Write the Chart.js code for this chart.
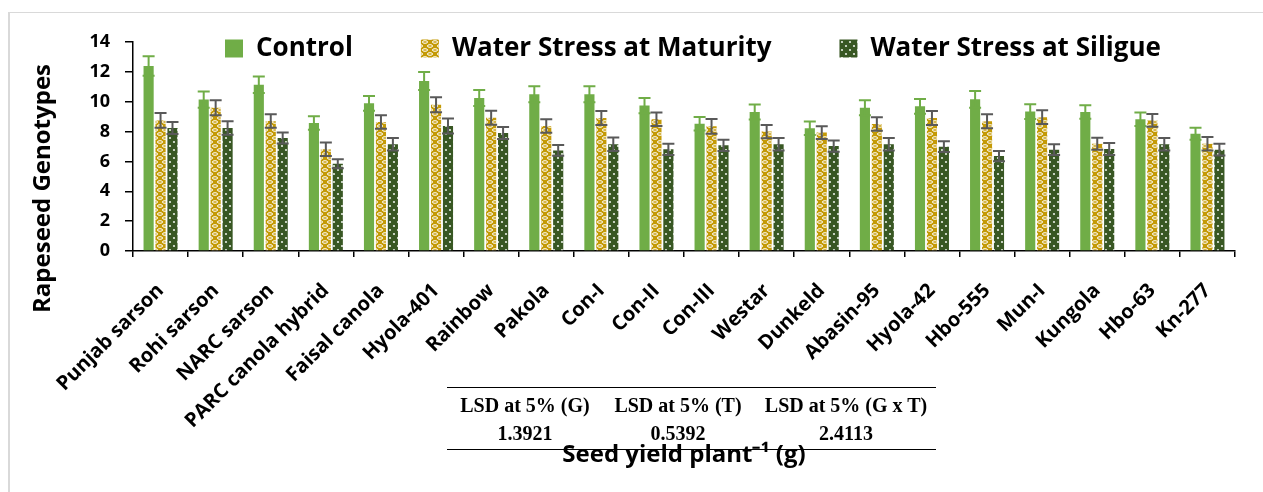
<!DOCTYPE html>
<html>
<head>
<meta charset="utf-8">
<script src="https://cdn.jsdelivr.net/npm/chart.js@4.4.1/dist/chart.umd.min.js"></script>
<style>
  html, body { margin: 0; padding: 0; background: #fff; }
  #wrap { position: relative; width: 1263px; height: 492px; overflow: hidden; }
  #frame { position: absolute; left: 8px; top: 12px; right: -10px; bottom: -10px;
           border-left: 2px solid #d9d9d9; border-top: 1px solid #d9d9d9; }
  #c { position: absolute; left: 0; top: 0; }
  .tline { position: absolute; height: 0; border-top: 1.3px solid #000; }
  .tcell { position: absolute; transform: translate(-50%, -50%); white-space: nowrap;
           font-family: "Liberation Serif", "Times New Roman", serif; font-weight: bold;
           font-size: 20px; color: #000; }
</style>
</head>
<body>
<div id="wrap">
  <div id="frame"></div>
  <canvas id="c" width="1263" height="492"></canvas>
  <div id="table"></div>
</div>
<script>
// ---------- data ----------
const categories = ["Punjab sarson","Rohi sarson","NARC sarson","PARC canola hybrid","Faisal canola",
  "Hyola-401","Rainbow","Pakola","Con-I","Con-II","Con-III","Westar","Dunkeld","Abasin-95",
  "Hyola-42","Hbo-555","Mun-I","Kungola","Hbo-63","Kn-277"];
const seriesNames = ["Control", "Water Stress at Maturity", "Water Stress at Siligue"];
const control     = [12.39,10.14,11.14,8.57,9.89,11.39,10.25,10.50,10.50,9.74,8.53,9.31,8.22,9.60,9.69,10.16,9.34,9.31,8.82,7.86];
const controlErr  = [0.65,0.55,0.55,0.45,0.50,0.60,0.53,0.53,0.53,0.51,0.45,0.50,0.45,0.50,0.50,0.56,0.49,0.45,0.45,0.40];
const maturity    = [8.75,9.60,8.71,6.81,8.64,9.80,8.93,8.37,8.91,8.82,8.35,8.00,7.93,8.51,8.91,8.69,8.96,7.19,8.75,7.19];
const maturityErr = [0.50,0.50,0.45,0.45,0.45,0.50,0.47,0.45,0.47,0.45,0.50,0.44,0.42,0.45,0.47,0.47,0.46,0.40,0.43,0.45];
const silique     = [8.24,8.24,7.57,5.85,7.15,8.37,7.90,6.74,7.15,6.81,7.08,7.15,7.03,7.15,6.99,6.36,6.79,6.83,7.15,6.79];
const siliqueErr  = [0.40,0.45,0.37,0.30,0.42,0.50,0.40,0.36,0.45,0.38,0.38,0.42,0.38,0.42,0.36,0.34,0.36,0.40,0.42,0.40];
const yMin = 0, yMax = 14, yStep = 2;
const yTitle = "Rapeseed Genotypes" + "\u2002".repeat(7);
const xTitle = "Seed yield plant\u207B\u00B9 (g)";
const lsdHeaders = ["LSD at 5% (G)", "LSD at 5% (T)", "LSD at 5% (G x T)"];
const lsdValues  = ["1.3921", "0.5392", "2.4113"];

// ---------- table (text overlay) ----------
(function buildTable(){
  const t = document.getElementById('table');
  const colX = [525, 678, 846];
  const lineL = 447, lineR = 936;
  const mk = (cls, css, txt) => { const d = document.createElement('div'); d.className = cls;
    Object.assign(d.style, css); if (txt !== undefined) d.textContent = txt; t.appendChild(d); };
  mk('tline', {left: lineL+'px', top: '387px', width: (lineR-lineL)+'px'});
  lsdHeaders.forEach((h,i)=> mk('tcell', {left: colX[i]+'px', top: '405px'}, h));
  lsdValues.forEach((v,i)=> mk('tcell', {left: colX[i]+'px', top: '433px'}, v));
  mk('tline', {left: lineL+'px', top: '449px', width: (lineR-lineL)+'px'});
})();

// ---------- patterns ----------
function maturityPattern(){
  const c = document.createElement('canvas'); c.width = 10; c.height = 8;
  const g = c.getContext('2d');
  g.fillStyle = '#C49A06'; g.fillRect(0,0,10,8);
  g.strokeStyle = '#ffffff'; g.lineWidth = 1;
  const caps = (x, y) => { g.beginPath(); g.ellipse(x, y, 2.6, 1.3, 0, 0, Math.PI*2); g.stroke(); };
  caps(5, 2); caps(0, 6); caps(10, 6);
  return g.createPattern(c, 'repeat');
}
function siliquePattern(){
  const c = document.createElement('canvas'); c.width = 8; c.height = 8;
  const g = c.getContext('2d');
  g.fillStyle = '#385723'; g.fillRect(0,0,8,8);
  g.fillStyle = '#e8eee4';
  g.beginPath(); g.arc(2, 2, 1.1, 0, Math.PI*2); g.fill();
  g.beginPath(); g.arc(6, 6, 1.1, 0, Math.PI*2); g.fill();
  return g.createPattern(c, 'repeat');
}

// ---------- plugins ----------
const errorBars = {
  id: 'errorBars',
  afterDatasetsDraw(chart) {
    const ctx = chart.ctx, ys = chart.scales.y;
    chart.data.datasets.forEach((ds, i) => {
      const meta = chart.getDatasetMeta(i);
      if (meta.hidden) return;
      meta.data.forEach((bar, j) => {
        const v = ds.data[j], e = ds.errors[j];
        const yt = ys.getPixelForValue(v + e), yb = ys.getPixelForValue(v - e);
        const x = bar.x, hw = 6;
        ctx.save();
        ctx.strokeStyle = ds.errorColor; ctx.lineWidth = 2;
        ctx.beginPath();
        ctx.moveTo(x, yt); ctx.lineTo(x, yb);
        ctx.moveTo(x-hw, yt); ctx.lineTo(x+hw, yt);
        ctx.moveTo(x-hw, yb); ctx.lineTo(x+hw, yb);
        ctx.stroke();
        ctx.restore();
      });
    });
  }
};
const legendShift = {
  id: 'legendShift',
  afterLayout(chart) {
    const lg = chart.legend; if (!lg) return;
    const pad = lg.options.labels.padding;
    const dy = 12 - (lg.top + pad);
    lg.top += dy; lg.bottom += dy;
    lg.left += 24; lg.right += 24;
  }
};

const FONT = '"Open Sans", "Liberation Sans", sans-serif';
new Chart(document.getElementById('c'), {
  type: 'bar',
  data: {
    labels: categories,
    datasets: [
      { label: seriesNames[0], data: control, errors: controlErr, errorColor: '#70AD47',
        backgroundColor: '#70AD47', borderWidth: 0 },
      { label: seriesNames[1], data: maturity, errors: maturityErr, errorColor: '#595959',
        backgroundColor: maturityPattern(), borderWidth: 0 },
      { label: seriesNames[2], data: silique, errors: siliqueErr, errorColor: '#595959',
        backgroundColor: siliquePattern(), borderWidth: 0 }
    ]
  },
  options: {
    responsive: false,
    animation: false,
    devicePixelRatio: 1,
    datasets: { bar: { categoryPercentage: 0.65, barPercentage: 0.85 } },
    layout: { padding: { top: 42, left: 29, right: 28, bottom: 22 } },
    plugins: {
      tooltip: { enabled: false },
      legend: {
        position: 'chartArea',
        align: 'center',
        labels: {
          boxWidth: 18, boxHeight: 18, padding: 68, color: '#000',
          font: { family: FONT, size: 26, weight: 'bold' }
        }
      }
    },
    scales: {
      x: {
        offset: true,
        grid: { display: true, drawOnChartArea: false, drawTicks: true, tickLength: 6,
                offset: true, color: '#000', lineWidth: 1.5 },
        border: { display: true, color: '#000', width: 1.5 },
        ticks: { color: '#000', minRotation: 45, maxRotation: 45, autoSkip: false, padding: 22,
                 font: { family: FONT, size: 20, weight: 'bold' } },
        title: { display: true, text: xTitle, color: '#000', padding: 0,
                 font: { family: FONT, size: 24, weight: 'bold' } },
        afterFit(s) { s.height = 219; }
      },
      y: {
        min: yMin, max: yMax,
        grid: { display: true, drawOnChartArea: false, drawTicks: true, tickLength: 8,
                color: '#000', lineWidth: 1.5 },
        border: { display: true, color: '#000', width: 1.5 },
        ticks: { stepSize: yStep, color: '#000', padding: 15,
                 font: { family: FONT, size: 18, weight: 'bold' } },
        title: { display: true, text: yTitle, color: '#000', padding: 0,
                 font: { family: FONT, size: 24, weight: 'bold' } },
        afterFit(s) { s.width = 104; }
      }
    }
  },
  plugins: [errorBars, legendShift]
});
</script>
</body>
</html>
